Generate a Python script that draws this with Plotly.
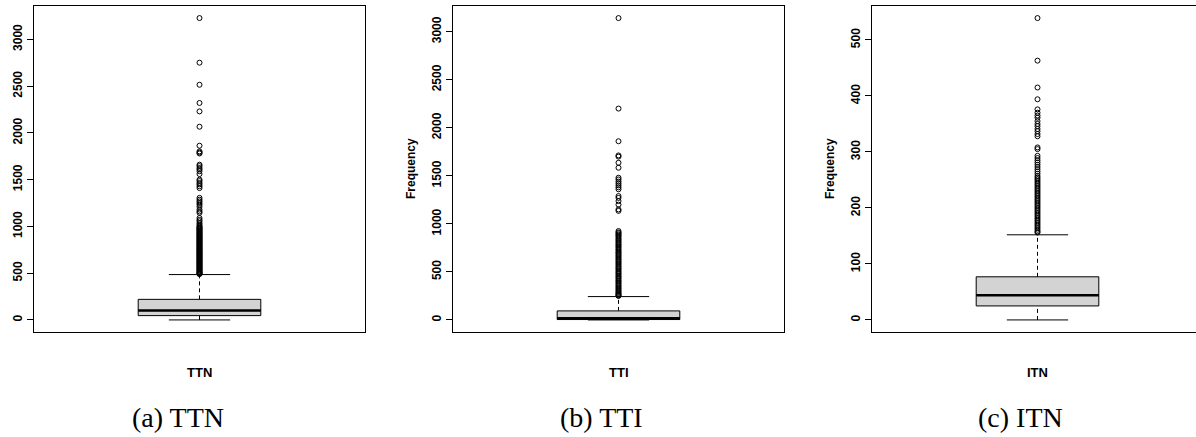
import plotly.graph_objects as go

W, H = 1196, 437

# ---------------- data ----------------
panel_names = ["TTN", "TTI", "ITN"]
captions = ["(a) TTN", "(b) TTI", "(c) ITN"]
y_titles = ["", "Frequency", "Frequency"]

ttn_stats = [0, 46, 100, 220, 485]      # lower whisker, q1, median, q3, upper whisker
tti_stats = [0, 4, 16, 94, 243]
itn_stats = [0, 25, 44, 77, 152]

ttn_outliers = [3228, 2751, 2515, 2320, 2230, 2066, 1863, 1802, 1790, 1780, 1660, 1645, 1625,
                1610, 1590, 1560, 1500, 1485, 1465, 1450, 1430, 1410, 1305, 1285, 1268, 1250,
                1233, 1210, 1180, 1160, 1145, 1090, 1070, 1055, 1035, 1020, 1004, 996, 987, 981,
                972, 966, 957, 951, 943, 934, 929, 919, 913, 904, 899, 889, 883, 874, 869, 861,
                852, 847, 837, 831, 822, 816, 807, 801, 793, 785, 779, 770, 765, 756, 751, 742,
                736, 727, 722, 713, 708, 699, 692, 687, 678, 672, 664, 657, 651, 643, 638, 629,
                624, 615, 609, 601, 596, 588, 581, 574, 567, 561, 553, 546, 540, 532, 526, 518,
                511, 505, 499, 494, 490]
tti_outliers = [3142, 2200, 1860, 1712, 1700, 1636, 1584, 1480, 1462, 1440, 1420, 1400, 1380,
                1360, 1289, 1270, 1237, 1200, 1150, 1135, 925, 911, 902, 889, 878, 866, 851,
                838, 826, 812, 801, 787, 776, 763, 751, 737, 726, 711, 700, 689, 675, 664, 651,
                637, 626, 612, 601, 587, 576, 561, 550, 537, 526, 511, 499, 487, 476, 461, 450,
                437, 426, 411, 401, 387, 376, 362, 351, 337, 326, 313, 301, 291, 281, 271, 263,
                256, 249]
itn_outliers = [539, 463, 415, 394, 376, 370, 365, 361, 355, 350, 346, 341, 337, 332, 328, 308,
                305, 293, 289, 285, 281, 277, 273, 269, 265, 261, 257, 254, 251, 248, 245, 242,
                239, 236, 233, 230, 227, 224, 221, 218, 215, 212, 209, 206, 203, 200, 197, 194,
                191, 188, 185, 182, 179, 176, 173, 170, 167, 164, 161, 158, 156]

ttn_ticks = [0, 500, 1000, 1500, 2000, 2500, 3000]
tti_ticks = [0, 500, 1000, 1500, 2000, 2500, 3000]
itn_ticks = [0, 100, 200, 300, 400, 500]

all_stats = [ttn_stats, tti_stats, itn_stats]
all_outliers = [ttn_outliers, tti_outliers, itn_outliers]
all_ticks = [ttn_ticks, tti_ticks, itn_ticks]

# ---------------- layout geometry (pixels) ----------------
frame_left = [34, 453, 872]
frame_w = 331
top_px, bot_px = 6, 332
caption_x = [178, 601, 1020]

BOX_POS = 1.0
BOX_W = 0.4
CAP_W = 0.2
XLO, XHI = 0.46, 1.54
px_per_unit = frame_w / (XHI - XLO)

AX_FONT = dict(family="Liberation Sans, Arial, sans-serif", size=12, color="black")

fig = go.Figure()
layout = dict(
    width=W, height=H, margin=dict(l=0, r=0, t=0, b=0),
    paper_bgcolor="white", plot_bgcolor="white", showlegend=False,
    annotations=[],
)

for i in range(3):
    lo, q1, med, q3, hi = all_stats[i]
    outs = all_outliers[i]
    xa = "x" if i == 0 else f"x{i+1}"
    ya = "y" if i == 0 else f"y{i+1}"

    fig.add_trace(go.Box(
        x=[BOX_POS], q1=[q1], median=[med], q3=[q3], lowerfence=[q1], upperfence=[q3],
        width=BOX_W, fillcolor="#D3D3D3", line=dict(color="black", width=1),
        boxpoints=False, whiskerwidth=0, xaxis=xa, yaxis=ya, hoverinfo="skip",
    ))
    # dashed whiskers
    for a, b in [(q3, hi), (lo, q1)]:
        fig.add_trace(go.Scatter(x=[BOX_POS, BOX_POS], y=[a, b], mode="lines",
                                 line=dict(color="black", width=1, dash="4px,3px"),
                                 xaxis=xa, yaxis=ya, hoverinfo="skip"))
    # staples
    for v in [lo, hi]:
        fig.add_trace(go.Scatter(x=[BOX_POS - CAP_W / 2, BOX_POS + CAP_W / 2], y=[v, v],
                                 mode="lines", line=dict(color="black", width=1),
                                 xaxis=xa, yaxis=ya, hoverinfo="skip"))
    # thick median
    fig.add_trace(go.Scatter(x=[BOX_POS - BOX_W / 2, BOX_POS + BOX_W / 2], y=[med, med],
                             mode="lines", line=dict(color="black", width=2.6),
                             xaxis=xa, yaxis=ya, hoverinfo="skip"))
    # outliers
    fig.add_trace(go.Scatter(x=[BOX_POS] * len(outs), y=outs, mode="markers",
                             marker=dict(symbol="circle-open", size=5, color="black",
                                         line=dict(width=1, color="black")),
                             xaxis=xa, yaxis=ya, hoverinfo="skip"))

    vmin = min([lo] + outs)
    vmax = max([hi] + outs)
    pad = 0.04 * (vmax - vmin)

    x0 = frame_left[i] / W
    right_px = min(frame_left[i] + frame_w, W)
    x1 = right_px / W
    xhi = XLO + (right_px - frame_left[i]) / px_per_unit

    layout["xaxis" if i == 0 else f"xaxis{i+1}"] = dict(
        domain=[x0, x1], range=[XLO, xhi], showticklabels=False, ticks="",
        showgrid=False, zeroline=False, showline=True, mirror=True,
        linecolor="black", linewidth=1, anchor=ya,
    )
    layout["yaxis" if i == 0 else f"yaxis{i+1}"] = dict(
        domain=[1 - bot_px / H, 1 - top_px / H], range=[vmin - pad, vmax + pad],
        tickvals=all_ticks[i], ticktext=[str(t) for t in all_ticks[i]],
        tickangle=-90, ticks="outside", ticklen=6, tickwidth=1, tickcolor="black",
        tickfont=dict(AX_FONT, weight="bold"),
        showgrid=False, zeroline=False, showline=True, mirror=True,
        linecolor="black", linewidth=1, anchor=xa,
    )

    center_px = frame_left[i] + (BOX_POS - XLO) * px_per_unit
    layout["annotations"].append(dict(
        text=f"<b>{panel_names[i]}</b>", x=center_px / W, y=1 - 372 / H,
        xref="paper", yref="paper", showarrow=False, xanchor="center", yanchor="middle",
        font=dict(AX_FONT, size=13),
    ))
    layout["annotations"].append(dict(
        text=captions[i], x=caption_x[i] / W, y=1 - 417 / H,
        xref="paper", yref="paper", showarrow=False, xanchor="center", yanchor="middle",
        font=dict(family="Liberation Serif, Times New Roman, serif", size=28, color="black"),
    ))
    if y_titles[i]:
        layout["annotations"].append(dict(
            text=f"<b>{y_titles[i]}</b>", x=(frame_left[i] - 42) / W,
            y=1 - ((top_px + bot_px) / 2) / H,
            xref="paper", yref="paper", showarrow=False, xanchor="center", yanchor="middle",
            textangle=-90, font=AX_FONT,
        ))

fig.update_layout(**layout)
fig.write_html("out.html", config={"displayModeBar": False},
               post_script="document.body.style.margin='0';document.body.style.overflow='hidden';")
